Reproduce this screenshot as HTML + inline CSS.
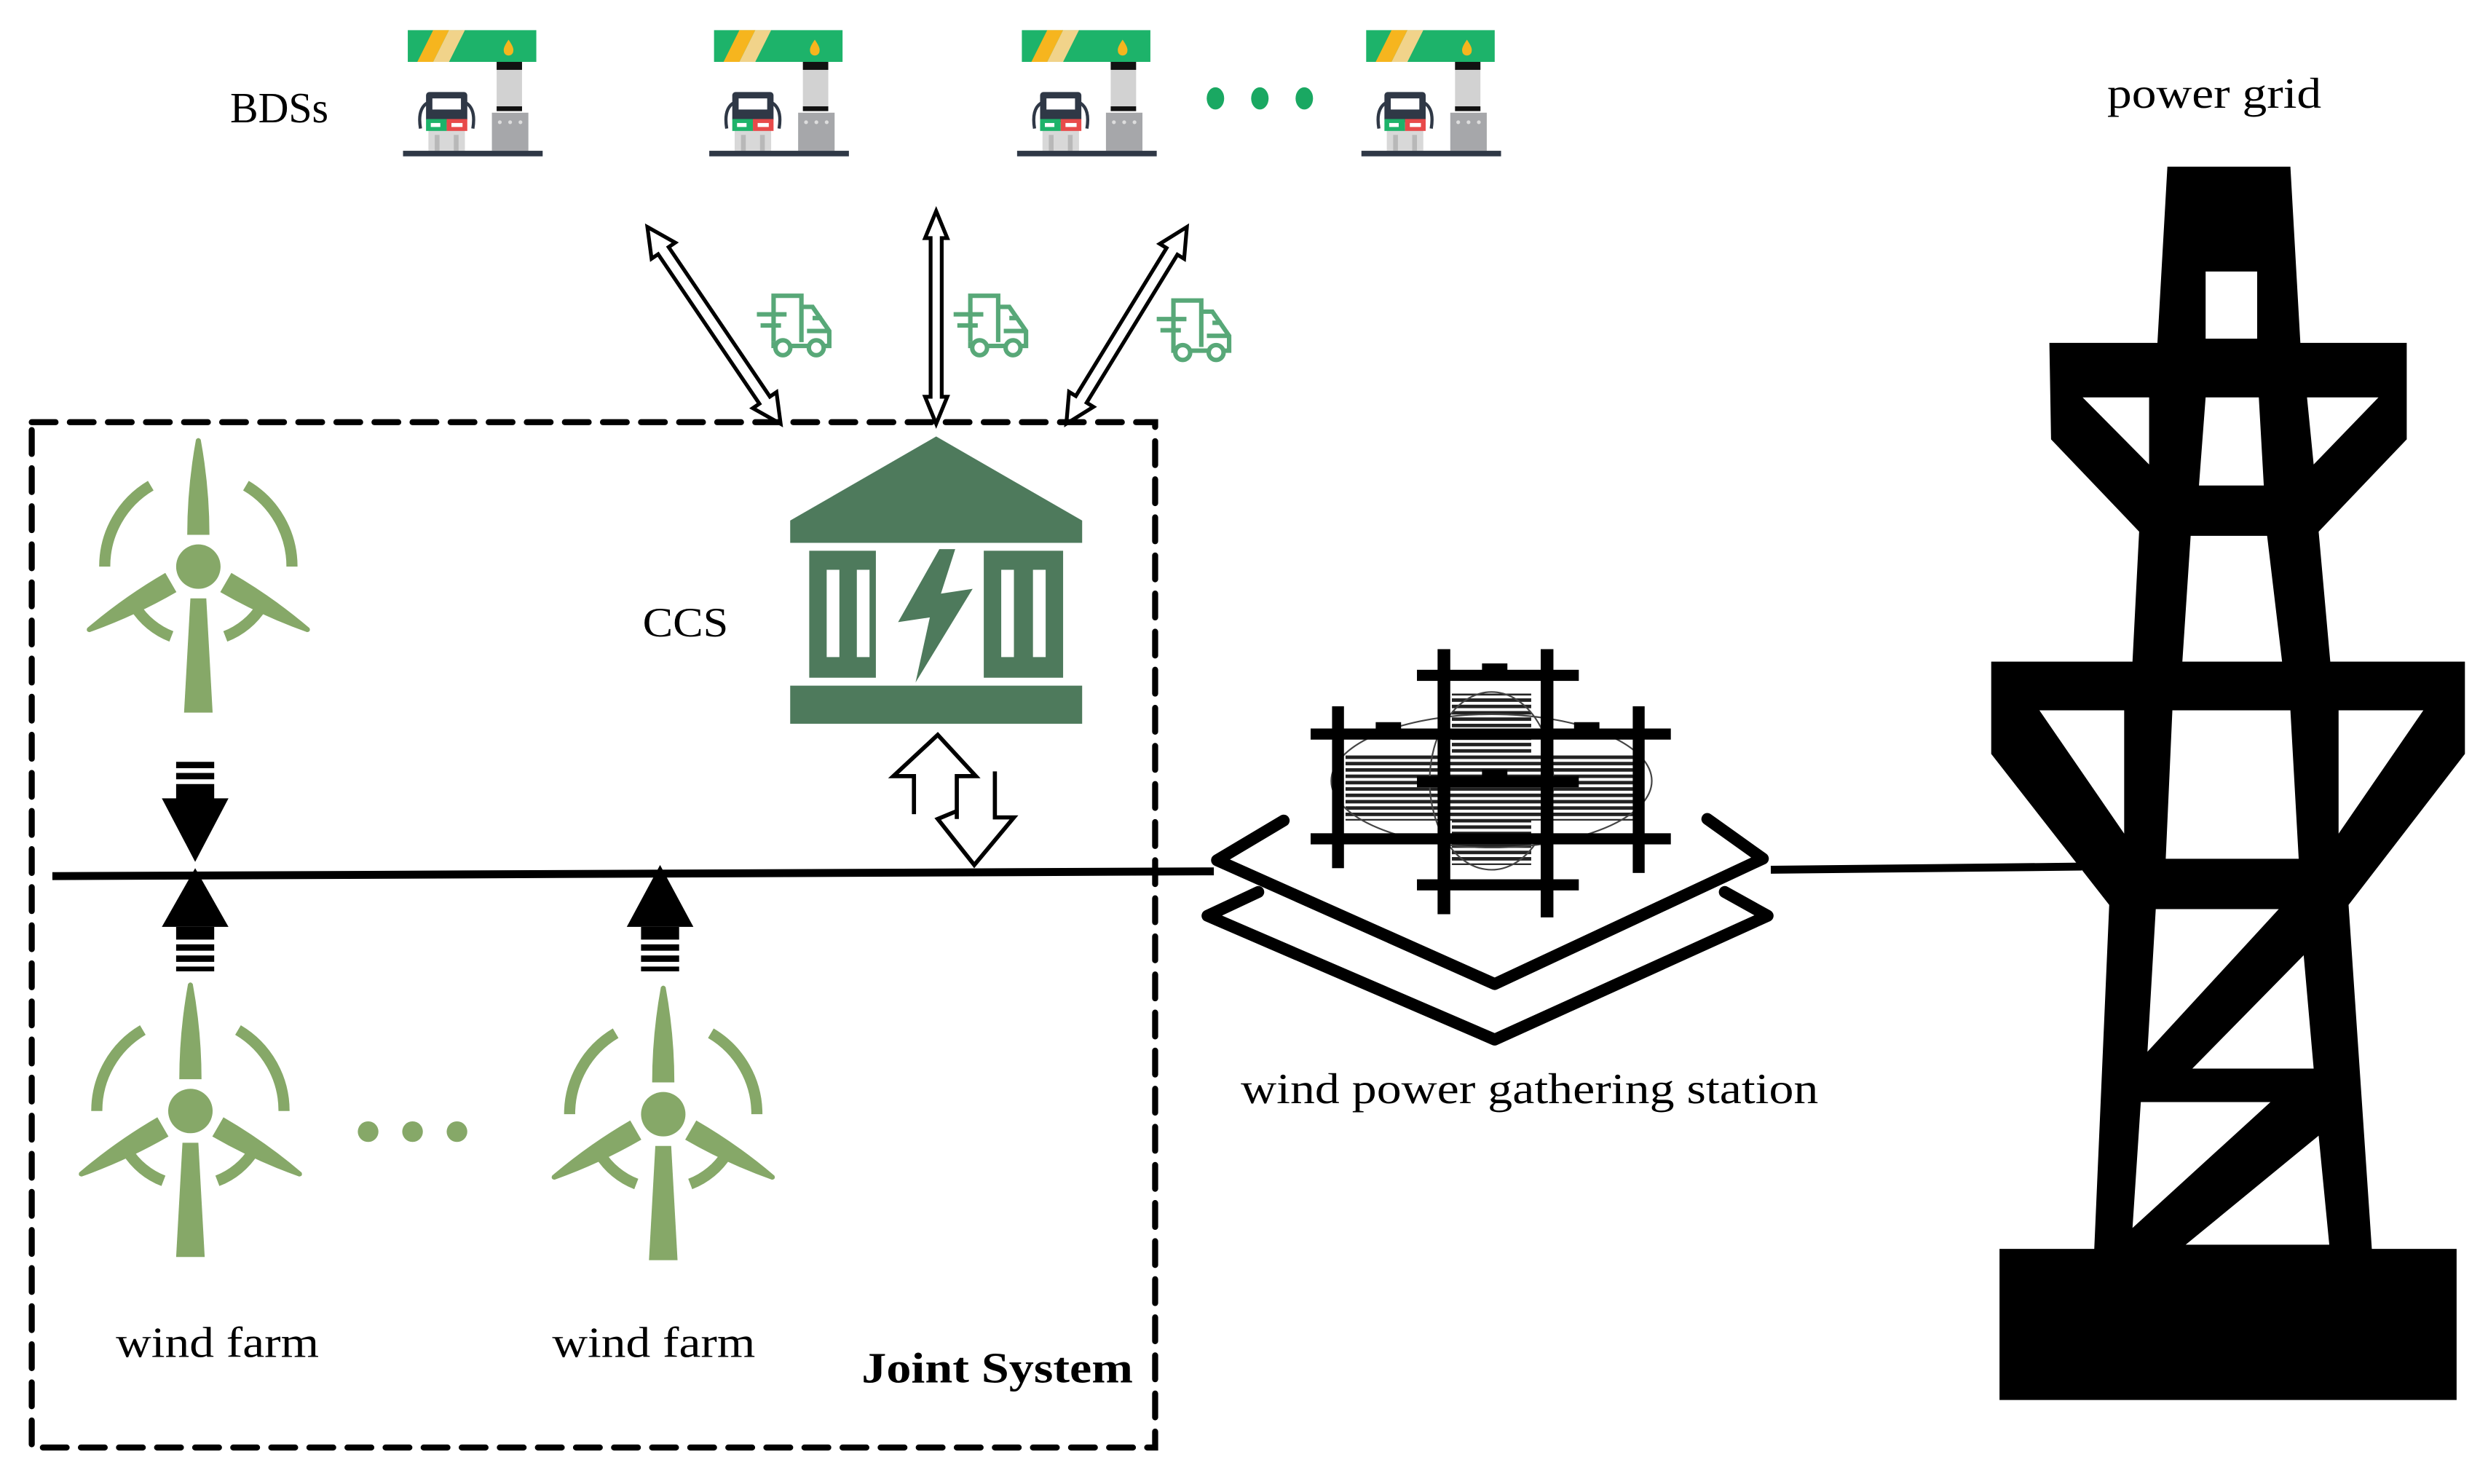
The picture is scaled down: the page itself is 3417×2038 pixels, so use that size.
<!DOCTYPE html>
<html><head><meta charset="utf-8"><style>
html,body{margin:0;padding:0;background:#fff;}
svg{display:block;}
text{font-family:"Liberation Serif",serif;fill:#000;}
</style></head><body>
<svg width="3417" height="2038" viewBox="0 0 1568 935" preserveAspectRatio="none" xmlns="http://www.w3.org/2000/svg">
<defs>
<symbol id="bds" overflow="visible">
  <rect x="3" y="0" width="81" height="20" fill="#1db36a"/>
  <polygon points="19,0 29,0 19,20 9,20" fill="#f6b51e"/>
  <polygon points="29,0 39,0 29,20 19,20" fill="#f1d38a"/>
  <path d="M66.5,6 Q63,11 63.5,13 A3,3 0 0 0 69.5,13 Q70,11 66.5,6Z" fill="#f6b51e"/>
  <rect x="59" y="20" width="16" height="31" fill="#d2d2d2"/>
  <rect x="59" y="20" width="16" height="5" fill="#111"/>
  <rect x="59" y="48" width="16" height="3" fill="#111"/>
  <rect x="56" y="52" width="23" height="24" fill="#a6a7aa"/>
  <circle cx="61" cy="58" r="1.2" fill="#ddd"/><circle cx="67.5" cy="58" r="1.2" fill="#ddd"/><circle cx="74" cy="58" r="1.2" fill="#ddd"/>
  <path d="M15,46 Q9,50 11,62 M40,46 Q46,50 44,62" stroke="#2f3846" stroke-width="2" fill="none"/>
  <rect x="16" y="62" width="23" height="14" fill="#d8d8d8"/>
  <rect x="20" y="66" width="3" height="10" fill="#b8b8b8"/><rect x="32" y="66" width="3" height="10" fill="#b8b8b8"/>
  <rect x="14.5" y="39" width="26" height="19" rx="2" fill="#2f3846"/>
  <rect x="18.5" y="43" width="18" height="7" fill="#fff"/>
  <rect x="14.5" y="56" width="13" height="7.5" fill="#1db36a"/>
  <rect x="27.5" y="56" width="13" height="7.5" fill="#e84a4a"/>
  <rect x="17.5" y="58.5" width="6" height="2.5" fill="#fff"/><rect x="30.5" y="58.5" width="7" height="2.5" fill="#fff"/>
  <rect x="0" y="76" width="88" height="3.5" fill="#2f3846"/>
</symbol>
<symbol id="truck" overflow="visible">
  <g stroke="#58a878" stroke-width="2.4" fill="none">
    <path d="M9,27 V2 H24 V27"/>
    <path d="M24,8 H30 L39,21 V29 H36"/>
    <path d="M17.5,29 H28"/>
    <path d="M9,27 V29 H10.5"/>
    <circle cx="14" cy="30" r="4"/><circle cx="32" cy="30" r="4"/>
    <path d="M0,12 H16 M2,18 H13 M30,14 H35 M27,21 H39"/>
  </g>
</symbol>
<symbol id="turb" overflow="visible">
  <g fill="#86a868">
    <circle cx="0" cy="0" r="14"/>
    <path id="bl" d="M-1.5,-80 Q0,-82 1.5,-80 Q7,-50 7,-20 L-7,-20 Q-7,-50 -1.5,-80 Z"/>
    <use href="#bl" transform="rotate(120)"/>
    <use href="#bl" transform="rotate(240)"/>
    <polygon points="-5,20 5,20 9,92 -9,92"/>
  </g>
  <circle cx="0" cy="0" r="16" fill="none" stroke="#fff" stroke-width="3"/>
  <g stroke="#86a868" stroke-width="7" fill="none">
    <path d="M-59,0 A59,59 0 0 1 -30,-51"/>
    <path d="M30,-51 A59,59 0 0 1 59,0"/>
    <path d="M-40,25 A47,47 0 0 0 -17,44"/>
    <path d="M17,44 A47,47 0 0 0 40,25"/>
  </g>
</symbol>
<pattern id="hatch" width="4" height="4" patternUnits="userSpaceOnUse">
  <rect width="4" height="4" fill="#fff"/><rect width="4" height="2.2" fill="#222"/>
</pattern>
</defs>

<use href="#bds" x="254" y="19"/>
<use href="#bds" x="447" y="19"/>
<use href="#bds" x="641" y="19"/>
<use href="#bds" x="858" y="19"/>
<ellipse cx="766" cy="62" rx="5.5" ry="7" fill="#1aa862"/>
<ellipse cx="794" cy="62" rx="5.5" ry="7" fill="#1aa862"/>
<ellipse cx="822" cy="62" rx="5.5" ry="7" fill="#1aa862"/>

<text x="145" y="77" font-size="27" textLength="62" lengthAdjust="spacingAndGlyphs">BDSs</text>
<text x="1328" y="68" font-size="27" textLength="135" lengthAdjust="spacingAndGlyphs">power grid</text>
<text x="405" y="401" font-size="26" textLength="54" lengthAdjust="spacingAndGlyphs">CCS</text>
<text x="782" y="695" font-size="27" textLength="364" lengthAdjust="spacingAndGlyphs">wind power gathering station</text>
<text x="73" y="855" font-size="27" textLength="128" lengthAdjust="spacingAndGlyphs">wind farm</text>
<text x="348" y="855" font-size="27" textLength="128" lengthAdjust="spacingAndGlyphs">wind farm</text>
<text x="543" y="871" font-size="27" font-weight="bold" textLength="171" lengthAdjust="spacingAndGlyphs">Joint System</text>

<g fill="#fff" stroke="#000" stroke-width="2.4" stroke-linejoin="miter">
  <polygon transform="translate(408,143) rotate(55.9)" points="0,0 18,-9 18,-4 131.8,-4 131.8,-9 149.8,0 131.8,9 131.8,4 18,4 18,9"/>
  <polygon transform="translate(590,133) rotate(90)" points="0,0 17,-7 17,-3.5 117,-3.5 117,-7 134,0 117,7 117,3.5 17,3.5 17,7"/>
  <polygon transform="translate(748,143) rotate(121.5)" points="0,0 18,-9 18,-4 127.4,-4 127.4,-9 145.4,0 127.4,9 127.4,4 18,4 18,9"/>
</g>
<use href="#truck" transform="translate(477,184) scale(1.17)"/>
<use href="#truck" transform="translate(601,184) scale(1.17)"/>
<use href="#truck" transform="translate(729,187) scale(1.17)"/>

<rect x="20" y="266" width="708" height="646" fill="none" stroke="#000" stroke-width="3.8" stroke-dasharray="15 9" stroke-linecap="round"/>

<g fill="#4e7a5c">
  <polygon points="590,275 682,328 682,342 498,342 498,328"/>
  <rect x="510" y="347" width="42" height="80"/>
  <rect x="620" y="347" width="50" height="80"/>
  <rect x="498" y="432" width="184" height="24"/>
  <polygon points="592,346 566,392 586,389 577,430 613,371 593,374 602,346"/>
</g>
<g fill="#fff">
  <rect x="521" y="359" width="8" height="55"/><rect x="540" y="359" width="8" height="55"/>
  <rect x="631" y="359" width="8" height="55"/><rect x="651" y="359" width="8" height="55"/>
</g>
<g fill="none" stroke="#000" stroke-width="2.6" stroke-linejoin="miter">
  <polyline points="576,513 576,489 563,489 591,463 615,489 603,489 603,516"/>
  <polyline points="603,511 591,516 614,545 639,515 627,515 627,486"/>
</g>

<polyline points="33,552 765,549" stroke="#000" stroke-width="5" fill="none"/>
<polyline points="1116,548 1312,546" stroke="#000" stroke-width="5" fill="none"/>

<use href="#turb" x="125" y="357"/>
<use href="#turb" x="120" y="700"/>
<use href="#turb" x="418" y="702"/>
<circle cx="232" cy="713" r="6.5" fill="#86a868"/>
<circle cx="260" cy="713" r="6.5" fill="#86a868"/>
<circle cx="288" cy="713" r="6.5" fill="#86a868"/>

<g fill="#000">
  <rect x="111" y="480" width="24" height="4"/><rect x="111" y="487" width="24" height="4"/>
  <rect x="111" y="494" width="24" height="10"/>
  <polygon points="102,503 144,503 123,543"/>
  <polygon points="102,584 144,584 123,547"/>
  <rect x="111" y="584" width="24" height="8"/>
  <rect x="111" y="595" width="24" height="4"/><rect x="111" y="602" width="24" height="4"/><rect x="111" y="609" width="24" height="3"/>
  <polygon points="395,584 437,584 416,545"/>
  <rect x="404" y="584" width="24" height="8"/>
  <rect x="404" y="595" width="24" height="4"/><rect x="404" y="602" width="24" height="4"/><rect x="404" y="609" width="24" height="3"/>
</g>

<g fill="none" stroke="#000" stroke-width="7.5" stroke-linejoin="round" stroke-linecap="round">
  <polyline points="809,517 767,542 942,620 1111,541 1076,516"/>
  <polyline points="793,562 761,577 942,655 1114,577 1087,562"/>
</g>
<rect x="848" y="475" width="182" height="42" fill="url(#hatch)"/>
<rect x="915" y="437" width="50" height="108" fill="url(#hatch)"/>
<g fill="none" stroke="#444" stroke-width="1">
  <ellipse cx="940" cy="492" rx="101" ry="42"/>
  <ellipse cx="940" cy="492" rx="39" ry="56"/>
</g>
<g fill="#000">
  <rect x="839.5" y="445" width="7.5" height="102"/>
  <rect x="906" y="409" width="8" height="167"/>
  <rect x="971" y="409" width="8" height="169"/>
  <rect x="1029" y="445" width="7.5" height="105"/>
  <rect x="893" y="422" width="102" height="7"/>
  <rect x="826" y="459" width="227" height="7"/>
  <rect x="893" y="489" width="102" height="7"/>
  <rect x="826" y="525" width="227" height="7"/>
  <rect x="893" y="554" width="102" height="7"/>
  <rect x="934" y="418" width="16" height="5"/>
  <rect x="867" y="455" width="16" height="5"/>
  <rect x="992" y="455" width="16" height="5"/>
  <rect x="934" y="485" width="16" height="5"/>
</g>

<g transform="translate(1239.2,68) scale(0.2095,0.5286)">
<path fill="#000" fill-rule="evenodd" d="M605,70 L975,70 L1005,280 L1325,280 L1325,395 L1060,505 L1095,660 L1500,660 L1500,770 L1150,950 L1220,1360 L1475,1360 L1475,1540 L100,1540 L100,1360 L385,1360 L430,950 L75,770 L75,660 L500,660 L520,505 L255,395 L250,280 L575,280 Z
M720,195 L875,195 L875,275 L720,275 Z
M350,345 L550,345 L550,425 Z
M1025,345 L1240,345 L1045,425 Z
M720,345 L880,345 L895,450 L700,450 Z
M675,510 L905,510 L950,660 L650,660 Z
M220,718 L475,718 L475,865 Z
M1120,718 L1375,718 L1120,865 Z
M620,718 L975,718 L1000,895 L600,895 Z
M570,955 L940,955 L545,1125 Z
M1015,1010 L1045,1145 L680,1145 Z
M525,1185 L915,1185 L500,1335 Z
M1060,1225 L1092,1355 L660,1355 Z"/>
</g>
</svg>
</body></html>
